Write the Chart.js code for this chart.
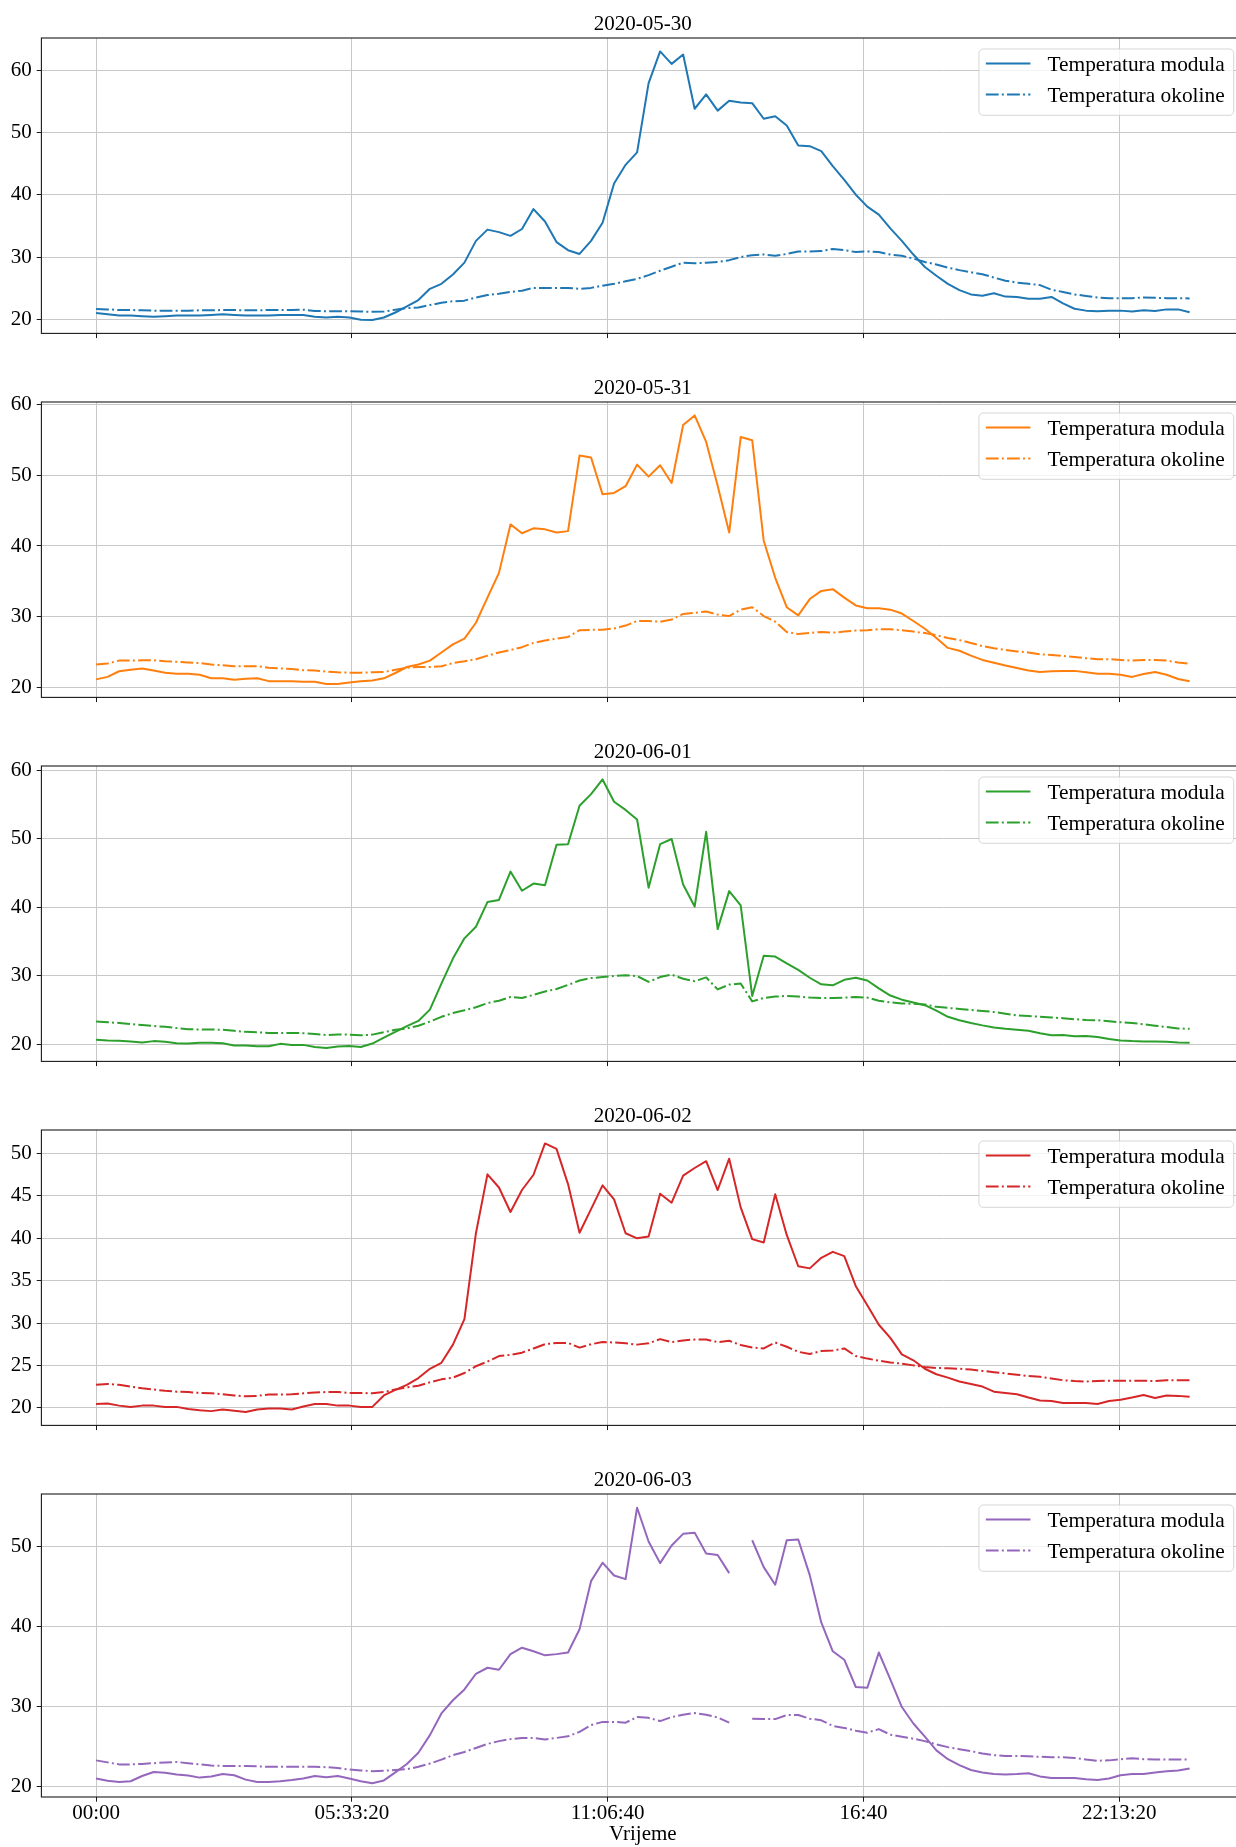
<!DOCTYPE html>
<html>
<head>
<meta charset="utf-8">
<script src="https://cdn.jsdelivr.net/npm/chart.js@4/dist/chart.umd.min.js"></script>
<style>
  html, body { margin: 0; padding: 0; background: #fff; overflow: hidden; }
  #wrap { position: relative; width: 1236px; height: 1847px; overflow: hidden; background: #fff; }
  #wrap canvas { position: absolute; left: 0; }
</style>
</head>
<body>
<div id="wrap"></div>
<script>
// ---------------- DATA ----------------
const days = ['2020-05-30', '2020-05-31', '2020-06-01', '2020-06-02', '2020-06-03'];
const seriesLabels = ['Temperatura modula', 'Temperatura okoline'];
const dayColors = ['#1f77b4', '#ff7f0e', '#2ca02c', '#d62728', '#9467bd'];
const stepSeconds = 900; // one sample every 15 minutes
const xTickValues = [0, 20000, 40000, 60000, 80000];
const xTickLabels = ['00:00', '05:33:20', '11:06:40', '16:40', '22:13:20'];
const xAxisTitle = 'Vrijeme';

const modul_0530 = [21.0, 20.8, 20.6, 20.6, 20.5, 20.4, 20.5, 20.6, 20.6, 20.6, 20.7, 20.8, 20.7, 20.6, 20.6, 20.6, 20.7, 20.7, 20.7, 20.4, 20.3, 20.4, 20.3, 19.95, 19.9, 20.3,
  21.1, 22.1, 23.1, 24.9, 25.7, 27.2, 29.1, 32.6, 34.4, 34.0, 33.4, 34.5, 37.7, 35.7, 32.4, 31.1, 30.5, 32.6, 35.5, 41.8,
  44.8, 46.8, 57.9, 63.0, 61.0, 62.5, 53.8, 56.1, 53.5, 55.1, 54.8, 54.7, 52.2, 52.6, 51.1, 47.9, 47.8, 47.0, 44.6, 42.4, 40.0, 38.1, 36.8, 34.6, 32.6, 30.4,
  28.4, 27.0, 25.7, 24.7, 24.0, 23.8, 24.2, 23.65, 23.6, 23.3, 23.3, 23.6, 22.55, 21.7, 21.4, 21.3, 21.4, 21.4, 21.25, 21.45, 21.35, 21.6, 21.6, 21.15];
const okolina_0530 = [21.67, 21.6, 21.5, 21.5, 21.45, 21.4, 21.4, 21.4, 21.4, 21.45, 21.45, 21.5, 21.5, 21.45, 21.45, 21.5, 21.5, 21.5, 21.55, 21.35, 21.3, 21.3, 21.3, 21.25, 21.2, 21.25,
  21.55, 21.8, 21.9, 22.3, 22.65, 22.9, 23.0, 23.5, 23.9, 24.1, 24.4, 24.6, 25.05, 25.05, 25.05, 25.05, 24.9, 25.05, 25.4, 25.7,
  26.1, 26.5, 27.1, 27.8, 28.45, 29.1, 29.0, 29.1, 29.2, 29.5, 30.0, 30.3, 30.4, 30.2, 30.5, 30.9, 30.9, 30.95, 31.3, 31.1, 30.8, 30.9, 30.8, 30.4, 30.2, 29.75,
  29.2, 28.8, 28.3, 27.9, 27.55, 27.25, 26.7, 26.2, 25.9, 25.7, 25.5, 24.75, 24.4, 24.0, 23.75, 23.5, 23.4, 23.4, 23.4, 23.5, 23.45, 23.4, 23.4, 23.35];

const modul_0531 = [21.15, 21.5, 22.3, 22.5, 22.7, 22.4, 22.1, 21.95, 21.95, 21.8, 21.3, 21.3, 21.1, 21.25, 21.3, 20.9, 20.9, 20.9, 20.8, 20.8, 20.5, 20.5, 20.7, 20.9, 21.0, 21.3,
  22.05, 22.9, 23.25, 23.8, 24.95, 26.1, 26.9, 29.15, 32.7, 36.2, 43.05, 41.8, 42.5, 42.35, 41.9, 42.1, 52.8, 52.5, 47.3, 47.5,
  48.45, 51.5, 49.8, 51.4, 48.9, 57.1, 58.45, 54.7, 48.5, 41.9, 55.4, 54.95, 40.75, 35.5, 31.35, 30.2, 32.5, 33.65, 33.9, 32.7, 31.6, 31.2, 31.2, 31.0, 30.45, 29.4,
  28.3, 27.0, 25.6, 25.2, 24.5, 23.9, 23.5, 23.1, 22.75, 22.4, 22.2, 22.3, 22.35, 22.35, 22.15, 21.95, 21.95, 21.8, 21.5, 21.9, 22.2, 21.8, 21.2, 20.9];
const okolina_0531 = [23.25, 23.4, 23.8, 23.8, 23.85, 23.85, 23.7, 23.65, 23.55, 23.45, 23.25, 23.15, 23.0, 23.0, 23.0, 22.8, 22.7, 22.6, 22.45, 22.4, 22.25, 22.15, 22.1, 22.1, 22.15, 22.2,
  22.5, 22.8, 22.9, 22.9, 23.0, 23.45, 23.7, 24.0, 24.5, 24.95, 25.3, 25.7, 26.3, 26.65, 26.9, 27.15, 28.1, 28.15, 28.15, 28.35,
  28.75, 29.4, 29.4, 29.3, 29.6, 30.4, 30.55, 30.75, 30.3, 30.1, 31.0, 31.35, 30.1, 29.3, 27.85, 27.55, 27.7, 27.85, 27.75, 27.9, 28.05, 28.1, 28.25, 28.25, 28.1, 27.9,
  27.7, 27.4, 27.0, 26.7, 26.3, 25.85, 25.55, 25.3, 25.1, 24.95, 24.7, 24.6, 24.45, 24.3, 24.15, 24.0, 24.0, 23.9, 23.8, 23.9, 23.9, 23.8, 23.55, 23.35];

const modul_0601 = [20.65, 20.55, 20.5, 20.4, 20.25, 20.45, 20.35, 20.15, 20.1, 20.2, 20.2, 20.15, 19.8, 19.8, 19.7, 19.7, 20.05, 19.9, 19.9, 19.6, 19.45, 19.65, 19.75, 19.6, 20.1, 20.95,
  21.8, 22.65, 23.4, 25.05, 28.85, 32.5, 35.45, 37.15, 40.75, 41.05, 45.2, 42.4, 43.45, 43.2, 49.1, 49.2, 54.8, 56.5, 58.65, 55.4,
  54.2, 52.8, 42.85, 49.2, 49.95, 43.3, 40.1, 51.0, 36.8, 42.35, 40.25, 27.05, 32.9, 32.8, 31.8, 30.85, 29.7, 28.75, 28.6, 29.4, 29.7, 29.3, 28.15, 27.1, 26.5, 26.1,
  25.7, 24.9, 24.0, 23.5, 23.1, 22.75, 22.45, 22.25, 22.1, 21.95, 21.6, 21.3, 21.35, 21.15, 21.2, 21.05, 20.75, 20.55, 20.45, 20.4, 20.4, 20.35, 20.25, 20.2];
const okolina_0601 = [23.3, 23.2, 23.1, 22.95, 22.8, 22.65, 22.55, 22.35, 22.2, 22.15, 22.15, 22.1, 21.95, 21.8, 21.75, 21.65, 21.65, 21.65, 21.6, 21.5, 21.35, 21.4, 21.4, 21.3, 21.4, 21.75,
  22.1, 22.3, 22.7, 23.3, 24.0, 24.55, 24.95, 25.4, 26.0, 26.35, 26.9, 26.75, 27.2, 27.7, 28.05, 28.65, 29.3, 29.65, 29.8, 29.95,
  30.05, 29.95, 29.1, 29.8, 30.15, 29.55, 29.2, 29.75, 28.0, 28.7, 28.85, 26.25, 26.75, 26.95, 27.05, 26.95, 26.8, 26.75, 26.75, 26.8, 26.9, 26.8, 26.35, 26.1, 25.95, 25.9,
  25.8, 25.45, 25.3, 25.15, 25.0, 24.85, 24.7, 24.45, 24.2, 24.1, 24.0, 23.9, 23.8, 23.65, 23.55, 23.5, 23.35, 23.2, 23.1, 22.9, 22.7, 22.5, 22.3, 22.25];

const modul_0602 = [20.45, 20.5, 20.25, 20.1, 20.25, 20.25, 20.1, 20.1, 19.85, 19.7, 19.6, 19.8, 19.65, 19.5, 19.8, 19.9, 19.9, 19.8, 20.15, 20.45, 20.45, 20.25, 20.25, 20.1, 20.1, 21.45,
  22.1, 22.7, 23.5, 24.6, 25.3, 27.45, 30.45, 40.6, 47.55, 46.0, 43.1, 45.7, 47.5, 51.2, 50.55, 46.4, 40.65, 43.45, 46.25, 44.6,
  40.6, 40.0, 40.2, 45.25, 44.2, 47.4, 48.3, 49.1, 45.7, 49.4, 43.65, 39.9, 39.5, 45.2, 40.4, 36.7, 36.45, 37.7, 38.4, 37.9, 34.35, 32.1, 29.8, 28.25, 26.3, 25.6,
  24.6, 23.95, 23.55, 23.1, 22.8, 22.5, 21.9, 21.75, 21.6, 21.2, 20.85, 20.8, 20.55, 20.55, 20.55, 20.45, 20.8, 20.95, 21.2, 21.5, 21.15, 21.45, 21.4, 21.3];
const okolina_0602 = [22.7, 22.8, 22.7, 22.5, 22.3, 22.15, 22.0, 21.9, 21.85, 21.75, 21.7, 21.6, 21.45, 21.35, 21.4, 21.55, 21.55, 21.6, 21.7, 21.8, 21.85, 21.85, 21.75, 21.75, 21.7, 21.85,
  22.15, 22.4, 22.6, 23.0, 23.35, 23.55, 24.1, 24.9, 25.45, 26.1, 26.25, 26.5, 27.0, 27.5, 27.65, 27.65, 27.1, 27.5, 27.75, 27.7,
  27.6, 27.45, 27.6, 28.1, 27.75, 27.95, 28.05, 28.05, 27.75, 27.9, 27.4, 27.1, 27.0, 27.7, 27.2, 26.6, 26.35, 26.7, 26.75, 27.0, 26.1, 25.8, 25.55, 25.35, 25.2, 25.0,
  24.8, 24.7, 24.65, 24.6, 24.5, 24.35, 24.2, 24.05, 23.9, 23.75, 23.65, 23.45, 23.25, 23.15, 23.1, 23.15, 23.2, 23.2, 23.2, 23.2, 23.15, 23.25, 23.25, 23.25];

const modul_0603 = [21.05, 20.75, 20.6, 20.7, 21.35, 21.85, 21.75, 21.55, 21.4, 21.15, 21.3, 21.6, 21.45, 20.9, 20.6, 20.6, 20.7, 20.85, 21.05, 21.35, 21.2, 21.35, 21.05, 20.7, 20.45, 20.8,
  21.8, 22.85, 24.25, 26.45, 29.15, 30.8, 32.15, 34.1, 34.85, 34.6, 36.55, 37.35, 36.9, 36.4, 36.55, 36.75, 39.65, 45.65, 47.95, 46.35,
  45.9, 54.8, 50.6, 47.9, 50.1, 51.55, 51.7, 49.1, 48.9, 46.65, null, 50.75, 47.4, 45.2, 50.75, 50.85, 46.4, 40.5, 36.9, 35.85, 32.45, 32.35, 36.75, 33.4, 29.95, 27.9,
  26.25, 24.55, 23.45, 22.7, 22.1, 21.8, 21.6, 21.55, 21.6, 21.7, 21.3, 21.1, 21.1, 21.1, 20.95, 20.85, 21.05, 21.45, 21.6, 21.6, 21.8, 21.95, 22.05, 22.3];
const okolina_0603 = [23.3, 23.05, 22.8, 22.8, 22.85, 22.95, 23.05, 23.1, 22.95, 22.8, 22.65, 22.6, 22.6, 22.6, 22.55, 22.5, 22.5, 22.5, 22.5, 22.5, 22.45, 22.35, 22.15, 22.05, 21.95, 22.0,
  22.1, 22.2, 22.5, 22.9, 23.4, 23.95, 24.35, 24.85, 25.35, 25.7, 25.95, 26.1, 26.1, 25.9, 26.1, 26.3, 26.85, 27.7, 28.1, 28.1,
  28.0, 28.7, 28.6, 28.2, 28.7, 29.0, 29.2, 29.0, 28.65, 28.0, null, 28.5, 28.45, 28.45, 28.95, 28.95, 28.5, 28.3, 27.6, 27.35, 27.0, 26.75, 27.2, 26.5, 26.25, 26.0,
  25.7, 25.3, 24.95, 24.7, 24.45, 24.15, 23.95, 23.85, 23.85, 23.8, 23.75, 23.7, 23.7, 23.6, 23.4, 23.25, 23.3, 23.45, 23.55, 23.45, 23.4, 23.4, 23.4, 23.4];

const yTicks_0530 = [20, 30, 40, 50, 60];
const yTicks_0531 = [20, 30, 40, 50, 60];
const yTicks_0601 = [20, 30, 40, 50, 60];
const yTicks_0602 = [20, 25, 30, 35, 40, 45, 50];
const yTicks_0603 = [20, 30, 40, 50];

const modulSeries = [modul_0530, modul_0531, modul_0601, modul_0602, modul_0603];
const okolinaSeries = [okolina_0530, okolina_0531, okolina_0601, okolina_0602, okolina_0603];
const yTickSets = [yTicks_0530, yTicks_0531, yTicks_0601, yTicks_0602, yTicks_0603];

// ---------------- LAYOUT / STYLE ----------------
const FONT = "'Liberation Serif', 'Times New Roman', serif";
const FS = 21;
const LEG_FS = 21.4;
const CANVAS_W = 1260;
const FIRST_TOP = 8, PERIOD = 364, TITLE_SPACE = 30;
const AREA_LEFT = 41.4, AREA_RIGHT = 1244.3;
const GRID = '#c8c8c8';
const LINE_W = 2;
const DASHDOT = [12.8, 3.2, 2, 3.2];

Chart.defaults.font.family = FONT;
Chart.defaults.font.size = FS;
Chart.defaults.color = '#000';

const mplPlugin = {
  id: 'mplFrameLegend',
  afterDraw(chart) {
    const { ctx, chartArea: a } = chart;
    ctx.save();
    // axes frame (spines)
    ctx.strokeStyle = '#1a1a1a';
    ctx.lineWidth = 1.1;
    ctx.setLineDash([]);
    ctx.strokeRect(a.left, a.top, a.right - a.left, a.bottom - a.top);
    // legend (upper right, inside the axes)
    ctx.font = LEG_FS + 'px ' + FONT;
    const items = chart.data.datasets;
    const tw = Math.max(...items.map(d => ctx.measureText(d.label).width));
    const boxR = a.right - 10.6, boxT = a.top + 11, boxH = 66.3;
    const textX = boxR - 9 - tw;
    const hEnd = textX - 17, hStart = hEnd - 44.6;
    const boxL = hStart - 6.9;
    const r = 4.2;
    ctx.beginPath();
    ctx.moveTo(boxL + r, boxT);
    ctx.lineTo(boxR - r, boxT);
    ctx.arcTo(boxR, boxT, boxR, boxT + r, r);
    ctx.lineTo(boxR, boxT + boxH - r);
    ctx.arcTo(boxR, boxT + boxH, boxR - r, boxT + boxH, r);
    ctx.lineTo(boxL + r, boxT + boxH);
    ctx.arcTo(boxL, boxT + boxH, boxL, boxT + boxH - r, r);
    ctx.lineTo(boxL, boxT + r);
    ctx.arcTo(boxL, boxT, boxL + r, boxT, r);
    ctx.closePath();
    ctx.fillStyle = 'rgba(255,255,255,0.8)';
    ctx.fill();
    ctx.strokeStyle = 'rgba(204,204,204,0.8)';
    ctx.lineWidth = 1;
    ctx.stroke();
    items.forEach((d, j) => {
      const ly = boxT + 14.6 + 31 * j;
      ctx.beginPath();
      ctx.strokeStyle = d.borderColor;
      ctx.lineWidth = d.borderWidth;
      ctx.setLineDash(d.borderDash || []);
      ctx.moveTo(hStart, ly);
      ctx.lineTo(hEnd, ly);
      ctx.stroke();
      ctx.setLineDash([]);
      ctx.fillStyle = '#000';
      ctx.textAlign = 'left';
      ctx.textBaseline = 'alphabetic';
      ctx.fillText(d.label, textX, boxT + 22.3 + 31 * j);
    });
    ctx.restore();
  }
};

const wrap = document.getElementById('wrap');
const nDays = days.length;

function toPoints(arr) {
  return arr.map((v, i) => ({ x: i * stepSeconds, y: v }));
}

days.forEach((day, k) => {
  const isLast = k === nDays - 1;
  const bottomSpace = isLast ? 50 : 10;
  const h = TITLE_SPACE + 303 + bottomSpace;
  const cv = document.createElement('canvas');
  cv.width = CANVAS_W; cv.height = h;
  cv.style.width = CANVAS_W + 'px'; cv.style.height = h + 'px';
  cv.style.top = (FIRST_TOP + PERIOD * k) + 'px';
  wrap.appendChild(cv);

  const mod = modulSeries[k], oko = okolinaSeries[k];
  const nPts = mod.length;
  const xSpan = (nPts - 1) * stepSeconds;
  const vals = mod.concat(oko).filter(v => v !== null);
  const vmin = Math.min(...vals), vmax = Math.max(...vals);
  const vr = vmax - vmin;
  const color = dayColors[k];
  const ticksY = yTickSets[k];

  new Chart(cv, {
    type: 'line',
    data: {
      datasets: [
        { label: seriesLabels[0], data: toPoints(mod), borderColor: color, backgroundColor: color,
          borderWidth: LINE_W, pointRadius: 0, tension: 0, fill: false, spanGaps: false,
          borderDash: [], borderJoinStyle: 'round' },
        { label: seriesLabels[1], data: toPoints(oko), borderColor: color, backgroundColor: color,
          borderWidth: LINE_W, pointRadius: 0, tension: 0, fill: false, spanGaps: false,
          borderDash: DASHDOT, borderJoinStyle: 'round' }
      ]
    },
    options: {
      responsive: false,
      animation: false,
      events: [],
      layout: { padding: { left: 0, right: CANVAS_W - AREA_RIGHT, top: 0, bottom: 0 } },
      plugins: {
        legend: { display: false },
        tooltip: { enabled: false },
        title: {
          display: true, text: day, fullSize: false, color: '#000',
          font: { family: FONT, size: FS, weight: 'normal', lineHeight: 1.2 },
          padding: { top: 3.8, bottom: 1 }
        }
      },
      scales: {
        x: {
          type: 'linear', position: 'bottom',
          min: -0.05 * xSpan, max: xSpan * 1.05,
          afterBuildTicks: s => { s.ticks = xTickValues.map(v => ({ value: v })); },
          afterFit: s => { s.height = bottomSpace; },
          grid: { color: GRID, lineWidth: 1, drawTicks: true, tickLength: 4.7, tickColor: '#1a1a1a', tickWidth: 1 },
          border: { display: false },
          ticks: {
            display: isLast, autoSkip: false, maxRotation: 0, minRotation: 0, padding: -1,
            color: '#000', font: { family: FONT, size: FS },
            callback: (v, i) => xTickLabels[i]
          },
          title: {
            display: isLast, text: xAxisTitle, color: '#000',
            font: { family: FONT, size: FS }, padding: { top: 0, bottom: 0 }
          }
        },
        y: {
          type: 'linear', position: 'left',
          min: vmin - 0.05 * vr, max: vmax + 0.05 * vr,
          afterBuildTicks: s => { s.ticks = ticksY.map(v => ({ value: v })); },
          afterFit: s => { s.width = AREA_LEFT; },
          grid: { color: GRID, lineWidth: 1, drawTicks: true, tickLength: 4.7, tickColor: '#1a1a1a', tickWidth: 1 },
          border: { display: false },
          ticks: {
            padding: 5, color: '#000', font: { family: FONT, size: FS },
            callback: v => String(v)
          }
        }
      }
    },
    plugins: [mplPlugin]
  });
});
</script>
</body>
</html>
